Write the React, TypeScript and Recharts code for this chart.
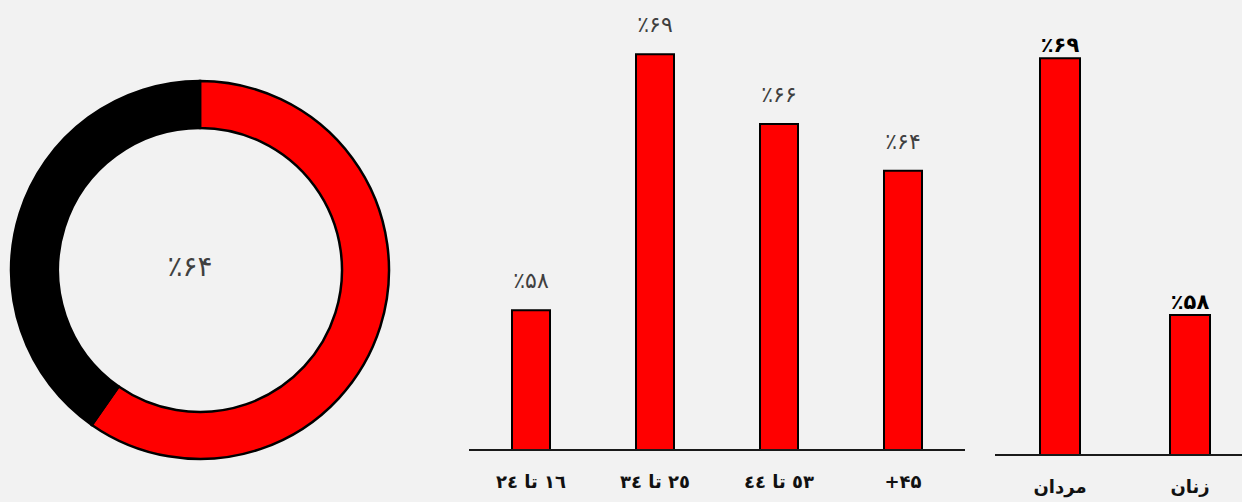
import React from "react";
import { PieChart, Pie, Cell, BarChart, Bar, XAxis, YAxis, LabelList } from "recharts";

const donutNames = ["بله", "خیر"];
const donutValues = [59.7, 40.3];
const donutColors = ["#ff0000", "#000000"];
const donutLabel = "٪۶۴";

const ageCategories = ["١٦ تا ٢٤", "٢٥ تا ٣٤", "٥٣ تا ٤٤", "۴۵+"];
const ageValues = [58, 69, 66, 64];

const genderCategories = ["مردان", "زنان"];
const genderValues = [69, 58];

const yDomain: [number, number] = [52, 70];

const fmtPct = (v: number) => "٪" + String(v).replace(/\d/g, (d) => "۰۱۲۳۴۵۶۷۸۹"[Number(d)]);

const donutData = donutNames.map((n, i) => ({ name: n, value: donutValues[i] }));
const ageData = ageCategories.map((c, i) => ({ name: c, value: ageValues[i] }));
const genderData = genderCategories.map((c, i) => ({ name: c, value: genderValues[i] }));

const FONT = "'DejaVu Sans', sans-serif";

const RtlTick = (props: any) => {
  const { x, y, payload } = props;
  return (
    <text
      x={x}
      y={y}
      dy={38}
      textAnchor="middle"
      fontFamily={FONT}
      fontWeight="bold"
      fontSize={18}
      fill="#111"
    >
      {"\u202B" + payload.value + "\u202C"}
    </text>
  );
};

export default function App() {
  return (
    <div
      style={{
        position: "absolute",
        left: 0,
        top: 0,
        width: 1242,
        height: 502,
        overflow: "hidden",
        background: "#f2f2f2",
        fontFamily: FONT,
      }}
    >
      <div style={{ position: "absolute", left: 0, top: 0 }}>
        <PieChart width={400} height={502} margin={{ top: 0, right: 0, bottom: 0, left: 0 }}>
          <Pie
            data={donutData}
            dataKey="value"
            cx={200}
            cy={270}
            innerRadius={142}
            outerRadius={189}
            startAngle={90}
            endAngle={-270}
            stroke="#000"
            strokeWidth={2.5}
            isAnimationActive={false}
          >
            {donutData.map((d, i) => (
              <Cell key={d.name} fill={donutColors[i]} />
            ))}
          </Pie>
          <text
            x={190}
            y={266}
            textAnchor="middle"
            dominantBaseline="central"
            fontFamily={FONT}
            fontSize={28}
            fill="#404040"
          >
            {donutLabel}
          </text>
        </PieChart>
      </div>

      <div style={{ position: "absolute", left: 469, top: 0 }}>
        <BarChart
          width={496}
          height={502}
          data={ageData}
          margin={{ top: 31, right: 0, bottom: 12, left: 0 }}
        >
          <YAxis hide domain={yDomain} allowDataOverflow />
          <XAxis
            dataKey="name"
            height={40}
            tickLine={false}
            tickSize={0}
            tickMargin={0}
            axisLine={{ stroke: "#1a1a1a", strokeWidth: 2 }}
            tick={<RtlTick />}
            interval={0}
          />
          <Bar
            dataKey="value"
            fill="#ff0000"
            stroke="#000"
            strokeWidth={2}
            barSize={38}
            isAnimationActive={false}
          >
            <LabelList
              dataKey="value"
              position="top"
              offset={22}
              formatter={(v: any) => fmtPct(Number(v))}
              fill="#404040"
              fontSize={22}
              fontFamily={FONT}
            />
          </Bar>
        </BarChart>
      </div>

      <div style={{ position: "absolute", left: 995, top: 0 }}>
        <BarChart
          width={260}
          height={502}
          data={genderData}
          margin={{ top: 35, right: 0, bottom: 7, left: 0 }}
        >
          <YAxis hide domain={yDomain} allowDataOverflow />
          <XAxis
            dataKey="name"
            height={40}
            tickLine={false}
            tickSize={0}
            tickMargin={0}
            axisLine={{ stroke: "#1a1a1a", strokeWidth: 2 }}
            tick={<RtlTick />}
            interval={0}
          />
          <Bar
            dataKey="value"
            fill="#ff0000"
            stroke="#000"
            strokeWidth={2}
            barSize={40}
            isAnimationActive={false}
          >
            <LabelList
              dataKey="value"
              position="top"
              offset={6}
              formatter={(v: any) => fmtPct(Number(v))}
              fill="#000"
              fontSize={21}
              fontWeight="bold"
              fontFamily={FONT}
            />
          </Bar>
        </BarChart>
      </div>
    </div>
  );
}
